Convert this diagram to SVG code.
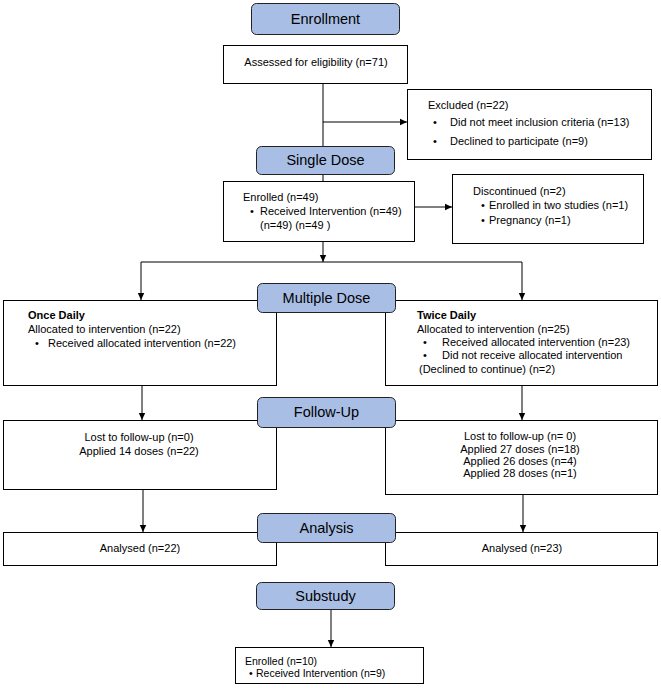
<svg xmlns="http://www.w3.org/2000/svg" width="661" height="696" viewBox="0 0 661 696">
<style>
text{font-family:"Liberation Sans",Arial,sans-serif;font-size:11px;fill:#000}
.box{fill:#fff;stroke:#000;stroke-width:1}
.hdr{fill:#a9bee4;stroke:#222;stroke-width:1}
.ht{font-size:14.5px;text-anchor:middle}
.c{text-anchor:middle}
.b{font-weight:bold}
.ln{fill:none;stroke:#000;stroke-width:1}
</style>
<defs>
<marker id="ah" markerWidth="8" markerHeight="8" refX="7" refY="4" orient="auto" markerUnits="userSpaceOnUse">
<path d="M0,0.8 L7,4 L0,7.2 Z" fill="#000"/>
</marker>
</defs>
<rect width="661" height="696" fill="#fff"/>
<g id="connectors">
<line class="ln" x1="323" y1="83" x2="323" y2="181"/>
<line class="ln" x1="323" y1="122" x2="407" y2="122" marker-end="url(#ah)"/>
<line class="ln" x1="414" y1="207" x2="452" y2="207" marker-end="url(#ah)"/>
<line class="ln" x1="323" y1="241" x2="323" y2="262" marker-end="url(#ah)"/>
<line class="ln" x1="141" y1="262" x2="522" y2="262"/>
<line class="ln" x1="141" y1="262" x2="141" y2="300" marker-end="url(#ah)"/>
<line class="ln" x1="522" y1="262" x2="522" y2="300" marker-end="url(#ah)"/>
<line class="ln" x1="142" y1="385" x2="142" y2="420" marker-end="url(#ah)"/>
<line class="ln" x1="522" y1="385" x2="522" y2="420" marker-end="url(#ah)"/>
<line class="ln" x1="143" y1="489" x2="143" y2="532" marker-end="url(#ah)"/>
<line class="ln" x1="523" y1="494" x2="523" y2="532" marker-end="url(#ah)"/>
<line class="ln" x1="331" y1="609" x2="331" y2="647" marker-end="url(#ah)"/>
</g>
<g id="assessed">
<rect class="box" x="223.5" y="45.5" width="184" height="38"/>
<text class="c" x="316" y="66">Assessed for eligibility (n=71)</text>
</g>
<g id="excluded">
<rect class="box" x="407.5" y="89.5" width="244" height="70"/>
<text x="428" y="109">Excluded (n=22)</text>
<text x="433" y="126">•</text><text x="450" y="126">Did not meet inclusion criteria (n=13)</text>
<text x="433" y="145">•</text><text x="450" y="145">Declined to participate (n=9)</text>
</g>
<g id="enrolled">
<rect class="box" x="223.5" y="181.5" width="191" height="60"/>
<text x="243" y="201">Enrolled (n=49)</text>
<text x="250" y="215">•</text><text x="260" y="215">Received Intervention (n=49)</text>
<text x="260" y="229">(n=49) (n=49 )</text>
</g>
<g id="discontinued">
<rect class="box" x="452.5" y="174.5" width="191" height="69"/>
<text x="473" y="195">Discontinued (n=2)</text>
<text x="481" y="209">•</text><text x="489" y="209">Enrolled in two studies (n=1)</text>
<text x="481" y="224">•</text><text x="489" y="224">Pregnancy (n=1)</text>
</g>
<g id="once-daily">
<rect class="box" x="3.5" y="300.5" width="273" height="85"/>
<text class="b" x="28" y="319">Once Daily</text>
<text x="28" y="333">Allocated to intervention (n=22)</text>
<text x="35" y="347">•</text><text x="48" y="347">Received allocated intervention (n=22)</text>
</g>
<g id="twice-daily">
<rect class="box" x="385.5" y="300.5" width="272" height="85"/>
<text class="b" x="417" y="319">Twice Daily</text>
<text x="417" y="333">Allocated to intervention (n=25)</text>
<text x="423" y="346">•</text><text x="442" y="346">Received allocated intervention (n=23)</text>
<text x="423" y="359">•</text><text x="442" y="359">Did not receive allocated intervention</text>
<text x="419" y="373">(Declined to continue) (n=2)</text>
</g>
<g id="followup-left">
<rect class="box" x="3.5" y="420.5" width="273" height="69"/>
<text class="c" x="139" y="441">Lost to follow-up (n=0)</text>
<text class="c" x="139" y="455">Applied 14 doses (n=22)</text>
</g>
<g id="followup-right">
<rect class="box" x="385.5" y="420.5" width="272" height="74"/>
<text class="c" x="520" y="440">Lost to follow-up (n= 0)</text>
<text class="c" x="520" y="453">Applied 27 doses (n=18)</text>
<text class="c" x="520" y="465">Applied 26 doses (n=4)</text>
<text class="c" x="520" y="477">Applied 28 doses (n=1)</text>
</g>
<g id="analysed-left">
<rect class="box" x="3.5" y="532.5" width="273" height="33"/>
<text class="c" x="140" y="552">Analysed (n=22)</text>
</g>
<g id="analysed-right">
<rect class="box" x="385.5" y="532.5" width="272" height="33"/>
<text class="c" x="522" y="552">Analysed (n=23)</text>
</g>
<g id="substudy-enrolled">
<rect class="box" x="235.5" y="647.5" width="188" height="36"/>
<text x="245" y="665" style="font-size:10.5px">Enrolled (n=10)</text>
<text x="249" y="677" style="font-size:10.5px">•</text><text x="256" y="677" style="font-size:10.5px">Received Intervention (n=9)</text>
</g>
<g id="hdr-enrollment">
<rect class="hdr" x="251.5" y="3.5" width="148" height="31" rx="5"/>
<text class="ht" x="325.5" y="24">Enrollment</text>
</g>
<g id="hdr-single">
<rect class="hdr" x="256.5" y="146.5" width="138" height="28" rx="5"/>
<text class="ht" x="325.5" y="165">Single Dose</text>
</g>
<g id="hdr-multiple">
<rect class="hdr" x="257.5" y="283.5" width="138" height="29" rx="5"/>
<text class="ht" x="326.5" y="303">Multiple Dose</text>
</g>
<g id="hdr-followup">
<rect class="hdr" x="257.5" y="397.5" width="138" height="30" rx="5"/>
<text class="ht" x="326.5" y="417">Follow-Up</text>
</g>
<g id="hdr-analysis">
<rect class="hdr" x="257.5" y="513.5" width="138" height="29" rx="5"/>
<text class="ht" x="326.5" y="533">Analysis</text>
</g>
<g id="hdr-substudy">
<rect class="hdr" x="256.5" y="582.5" width="138" height="27" rx="5"/>
<text class="ht" x="325.5" y="601">Substudy</text>
</g>
</svg>
